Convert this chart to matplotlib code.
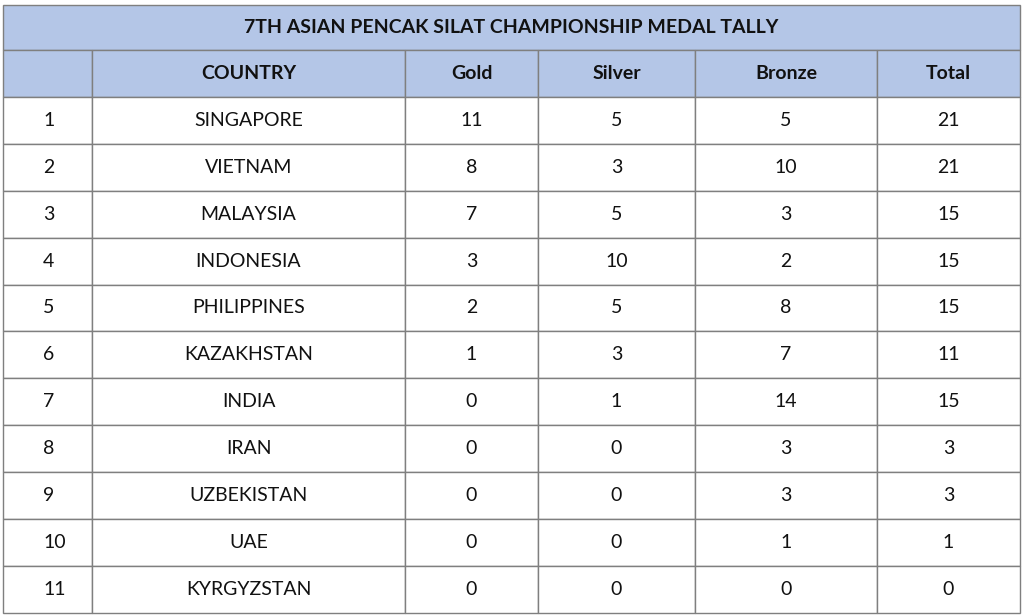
import matplotlib
matplotlib.use("Agg")
import matplotlib.pyplot as plt
from matplotlib.patches import Rectangle

title = "7TH ASIAN PENCAK SILAT CHAMPIONSHIP MEDAL TALLY"
headers = ["", "COUNTRY", "Gold", "Silver", "Bronze", "Total"]
ranks = [1, 2, 3, 4, 5, 6, 7, 8, 9, 10, 11]
countries = ["SINGAPORE", "VIETNAM", "MALAYSIA", "INDONESIA", "PHILIPPINES", "KAZAKHSTAN",
             "INDIA", "IRAN", "UZBEKISTAN", "UAE", "KYRGYZSTAN"]
gold = [11, 8, 7, 3, 2, 1, 0, 0, 0, 0, 0]
silver = [5, 3, 5, 10, 5, 3, 1, 0, 0, 0, 0]
bronze = [5, 10, 3, 2, 8, 7, 14, 3, 3, 1, 0]
total = [21, 21, 15, 15, 15, 11, 15, 3, 3, 1, 0]

W, H = 1024, 616
fig = plt.figure(figsize=(W/100, H/100), dpi=100)
ax = fig.add_axes([0, 0, 1, 1])
ax.set_xlim(0, W); ax.set_ylim(H, 0); ax.axis("off")

xs = [3, 92, 405, 538, 695, 877, 1020]
top, title_h, row_h = 5, 45, 46.9
hdr_fill = "#B4C6E7"
edge = "#7F7F7F"
font = "Lato"

ax.add_patch(Rectangle((xs[0], top), xs[-1]-xs[0], title_h, fc=hdr_fill, ec=edge, lw=1))
ax.text((xs[0]+xs[-1])/2, top+title_h/2, title, ha="center", va="center",
        fontsize=14, fontweight="bold", family=font, color="#111111")

rows = [headers] + [[str(r), c, str(g), str(s), str(b), str(t)]
                    for r, c, g, s, b, t in zip(ranks, countries, gold, silver, bronze, total)]
y = top + title_h
for i, row in enumerate(rows):
    for j in range(6):
        fc = hdr_fill if i == 0 else "white"
        ax.add_patch(Rectangle((xs[j], y), xs[j+1]-xs[j], row_h, fc=fc, ec=edge, lw=1))
        if j == 0:
            tx, ha = xs[0] + 40, "left"
        else:
            tx, ha = (xs[j]+xs[j+1])/2, "center"
        ax.text(tx, y+row_h/2, row[j], ha=ha, va="center", fontsize=14,
                fontweight="bold" if i == 0 else "normal", family=font, color="#111111")
    y += row_h

fig.savefig("out.png", dpi=100)
